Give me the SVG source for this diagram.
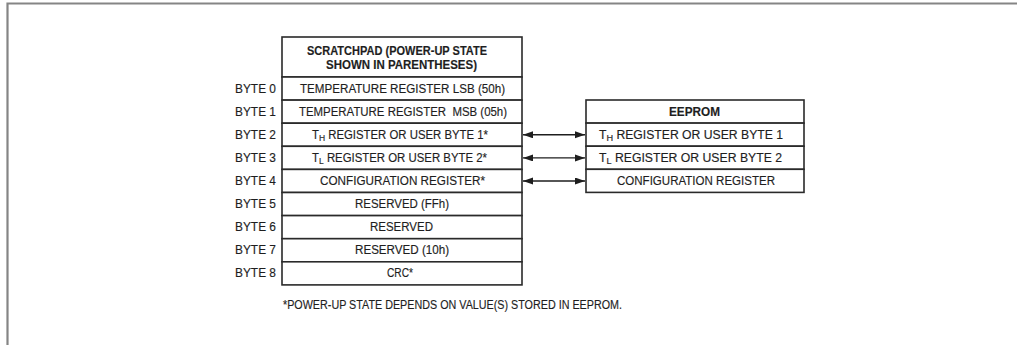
<svg xmlns="http://www.w3.org/2000/svg" width="1017" height="345" viewBox="0 0 1017 345">
<style>
text{font-family:"Liberation Sans",Arial,sans-serif;font-size:12px;fill:#1e1e1e;stroke:#1e1e1e;stroke-width:0.15;}
.b{font-weight:bold;}
.c{text-anchor:middle;}
.r{text-anchor:end;}
.sub{font-size:9px;}
.box{fill:#fff;stroke:#2a2a2a;stroke-width:1.6;}
.con{stroke:#1e1e1e;stroke-width:1.4;fill:none;marker-start:url(#ah);marker-end:url(#ah);}
</style>
<defs>
<marker id="ah" markerUnits="userSpaceOnUse" markerWidth="11" markerHeight="8" refX="10" refY="3.5" orient="auto-start-reverse">
<path d="M0,0 L10,3.5 L0,7 z" fill="#1e1e1e"/>
</marker>
</defs>
<rect width="1017" height="345" fill="#fff"/>
<path d="M7.5,345 L7.5,3.5 L1017,3.5" fill="none" stroke="#858585" stroke-width="2.2"/>

<g id="scratchpad">
<g id="sp-header">
<rect class="box" x="282" y="37" width="240" height="40"/>
<text class="b c" x="397" y="55" textLength="180" lengthAdjust="spacingAndGlyphs">SCRATCHPAD (POWER-UP STATE</text>
<text class="b c" x="401.5" y="68.5" textLength="151" lengthAdjust="spacingAndGlyphs">SHOWN IN PARENTHESES)</text>
</g>
<g id="byte0">
<rect class="box" x="282" y="77" width="240" height="23.1"/>
<text class="r" x="276" y="93" textLength="41" lengthAdjust="spacingAndGlyphs">BYTE 0</text>
<text class="c" x="402.5" y="93" textLength="205" lengthAdjust="spacingAndGlyphs">TEMPERATURE REGISTER LSB (50h)</text>
</g>
<g id="byte1">
<rect class="box" x="282" y="100.1" width="240" height="23.1"/>
<text class="r" x="276" y="116" textLength="41" lengthAdjust="spacingAndGlyphs">BYTE 1</text>
<text class="c" x="403" y="116" textLength="208" lengthAdjust="spacingAndGlyphs">TEMPERATURE REGISTER&#160; MSB (05h)</text>
</g>
<g id="byte2">
<rect class="box" x="282" y="123.2" width="240" height="23.1"/>
<text class="r" x="276" y="139" textLength="41" lengthAdjust="spacingAndGlyphs">BYTE 2</text>
<text class="c" x="400" y="139" textLength="176" lengthAdjust="spacingAndGlyphs">T<tspan class="sub" dy="2">H</tspan><tspan dy="-2"> REGISTER OR USER BYTE 1*</tspan></text>
</g>
<g id="byte3">
<rect class="box" x="282" y="146.3" width="240" height="23.1"/>
<text class="r" x="276" y="162" textLength="41" lengthAdjust="spacingAndGlyphs">BYTE 3</text>
<text class="c" x="399.5" y="162" textLength="175" lengthAdjust="spacingAndGlyphs">T<tspan class="sub" dy="2">L</tspan><tspan dy="-2"> REGISTER OR USER BYTE 2*</tspan></text>
</g>
<g id="byte4">
<rect class="box" x="282" y="169.4" width="240" height="23.1"/>
<text class="r" x="276" y="185" textLength="41" lengthAdjust="spacingAndGlyphs">BYTE 4</text>
<text class="c" x="402.5" y="185" textLength="165" lengthAdjust="spacingAndGlyphs">CONFIGURATION REGISTER*</text>
</g>
<g id="byte5">
<rect class="box" x="282" y="192.5" width="240" height="23.1"/>
<text class="r" x="276" y="208" textLength="41" lengthAdjust="spacingAndGlyphs">BYTE 5</text>
<text class="c" x="402" y="208" textLength="94" lengthAdjust="spacingAndGlyphs">RESERVED (FFh)</text>
</g>
<g id="byte6">
<rect class="box" x="282" y="215.6" width="240" height="23.1"/>
<text class="r" x="276" y="231" textLength="41" lengthAdjust="spacingAndGlyphs">BYTE 6</text>
<text class="c" x="401.5" y="231" textLength="63" lengthAdjust="spacingAndGlyphs">RESERVED</text>
</g>
<g id="byte7">
<rect class="box" x="282" y="238.7" width="240" height="23.1"/>
<text class="r" x="276" y="254" textLength="41" lengthAdjust="spacingAndGlyphs">BYTE 7</text>
<text class="c" x="402" y="254" textLength="94" lengthAdjust="spacingAndGlyphs">RESERVED (10h)</text>
</g>
<g id="byte8">
<rect class="box" x="282" y="261.8" width="240" height="23.1"/>
<text class="r" x="276" y="277" textLength="41" lengthAdjust="spacingAndGlyphs">BYTE 8</text>
<text class="c" x="400" y="277" textLength="26" lengthAdjust="spacingAndGlyphs">CRC*</text>
</g>
</g>

<g id="eeprom">
<g id="ee-header">
<rect class="box" x="586" y="100" width="218" height="23.1"/>
<text class="b c" x="694.5" y="116" textLength="51" lengthAdjust="spacingAndGlyphs">EEPROM</text>
</g>
<g id="ee-th">
<rect class="box" x="586" y="123.1" width="218" height="23.1"/>
<text class="c" x="691" y="139" textLength="184" lengthAdjust="spacingAndGlyphs">T<tspan class="sub" dy="2">H</tspan><tspan dy="-2"> REGISTER OR USER BYTE 1</tspan></text>
</g>
<g id="ee-tl">
<rect class="box" x="586" y="146.2" width="218" height="23.1"/>
<text class="c" x="690.5" y="162" textLength="183" lengthAdjust="spacingAndGlyphs">T<tspan class="sub" dy="2">L</tspan><tspan dy="-2"> REGISTER OR USER BYTE 2</tspan></text>
</g>
<g id="ee-config">
<rect class="box" x="586" y="169.3" width="218" height="23.1"/>
<text class="c" x="696" y="185" textLength="158" lengthAdjust="spacingAndGlyphs">CONFIGURATION REGISTER</text>
</g>
</g>

<g id="connectors">
<line class="con" x1="523" y1="134.8" x2="585" y2="134.8"/>
<line class="con" x1="523" y1="157.9" x2="585" y2="157.9"/>
<line class="con" x1="523" y1="181" x2="585" y2="181"/>
</g>

<g id="footnote">
<text x="283" y="309" textLength="339" lengthAdjust="spacingAndGlyphs">*POWER-UP STATE DEPENDS ON VALUE(S) STORED IN EEPROM.</text>
</g>
</svg>
